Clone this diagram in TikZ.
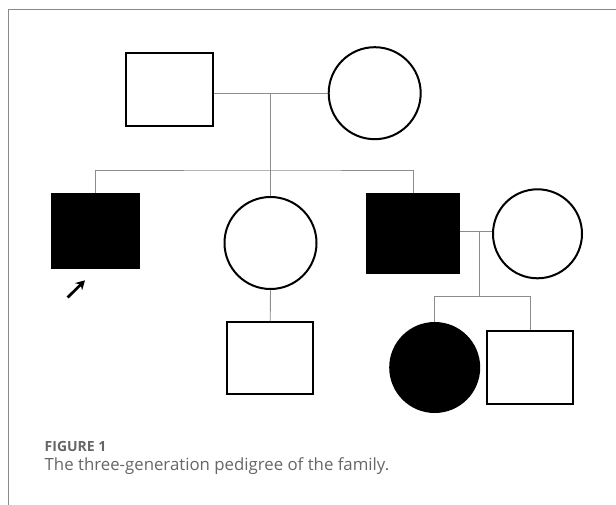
\documentclass[tikz,border=0pt]{standalone}
\usepackage{fontspec}
\setmainfont{Open Sans}
\usetikzlibrary{arrows.meta}
\definecolor{framegray}{HTML}{8A8A8A}
\definecolor{linkgray}{HTML}{8C8C8C}
\definecolor{captiongray}{HTML}{666666}
\tikzset{
  shapeline/.style={draw=black, line width=2pt, inner sep=0pt},
  male/.style={shapeline, rectangle, fill=white},
  female/.style={shapeline, circle, fill=white},
  affected/.style={fill=black},
  link/.style={draw=linkgray, line width=0.9pt},
  probandarrow/.style={line width=2.8pt, -{Stealth[length=9pt,width=10pt]}},
}
\begin{document}
\begin{tikzpicture}[x=1pt,y=-1pt]
  \useasboundingbox (0,0) rectangle (616,505);
  % panel frame
  \draw[framegray, line width=1pt] (8.5,505) -- (8.5,9.5) -- (616,9.5);

  % generation I
  \node[male, minimum width=86.5pt, minimum height=72.5pt] (gf) at (169.5,89.5) {};
  \node[female, minimum size=92pt] (gm) at (374.7,93.2) {};

  % generation II
  \node[male, affected, minimum width=87pt, minimum height=74pt] (pro) at (95.8,231.2) {};
  \node[female, minimum size=92pt] (sis) at (270.5,243) {};
  \node[male, affected, minimum width=91.7pt, minimum height=79.3pt] (bro) at (413.2,233.7) {};
  \node[female, minimum size=89pt] (wife) at (537.5,233.8) {};

  % generation III
  \node[male, minimum width=86.3pt, minimum height=72.3pt] (nephew) at (270.2,358.2) {};
  \node[female, affected, minimum size=89pt] (dau) at (434.7,367.5) {};
  \node[male, minimum width=86pt, minimum height=73pt] (son) at (530.3,367.5) {};

  % mating and sibship points
  \coordinate (m1) at (270.5,93.3);
  \coordinate (s1) at (270.5,170);
  \coordinate (m2) at (479.3,231);
  \coordinate (s2) at (479.3,296.7);

  % connectors
  \draw[link] (gf.east |- m1) -- (gm.west |- m1);
  \draw[link] (m1) -- (sis.north);
  \draw[link] (pro.north) |- (s1) -| (bro.north);
  \draw[link] (sis.south) -- (nephew.north);
  \draw[link] (bro.east |- m2) -- (wife.west |- m2);
  \draw[link] (m2) -- (s2);
  \draw[link] (dau.north) |- (s2) -| (son.north);

  % proband arrow
  \coordinate (ar0) at (67.7,297.5);
  \coordinate (ar1) at (85,280.3);
  \draw[probandarrow] (ar0) -- (ar1);

  % caption
  \node[anchor=base west, inner sep=0pt, text=captiongray, font=\bfseries\fontsize{14pt}{16pt}\selectfont] (figlabel) at (44.5,451.3) {FIGURE 1};
  \node[anchor=base west, inner sep=0pt, text=captiongray, font=\fontsize{16.8pt}{20pt}\selectfont] (figtext) at (44.5,470) {The three-generation pedigree of the family.};
\end{tikzpicture}
\end{document}
